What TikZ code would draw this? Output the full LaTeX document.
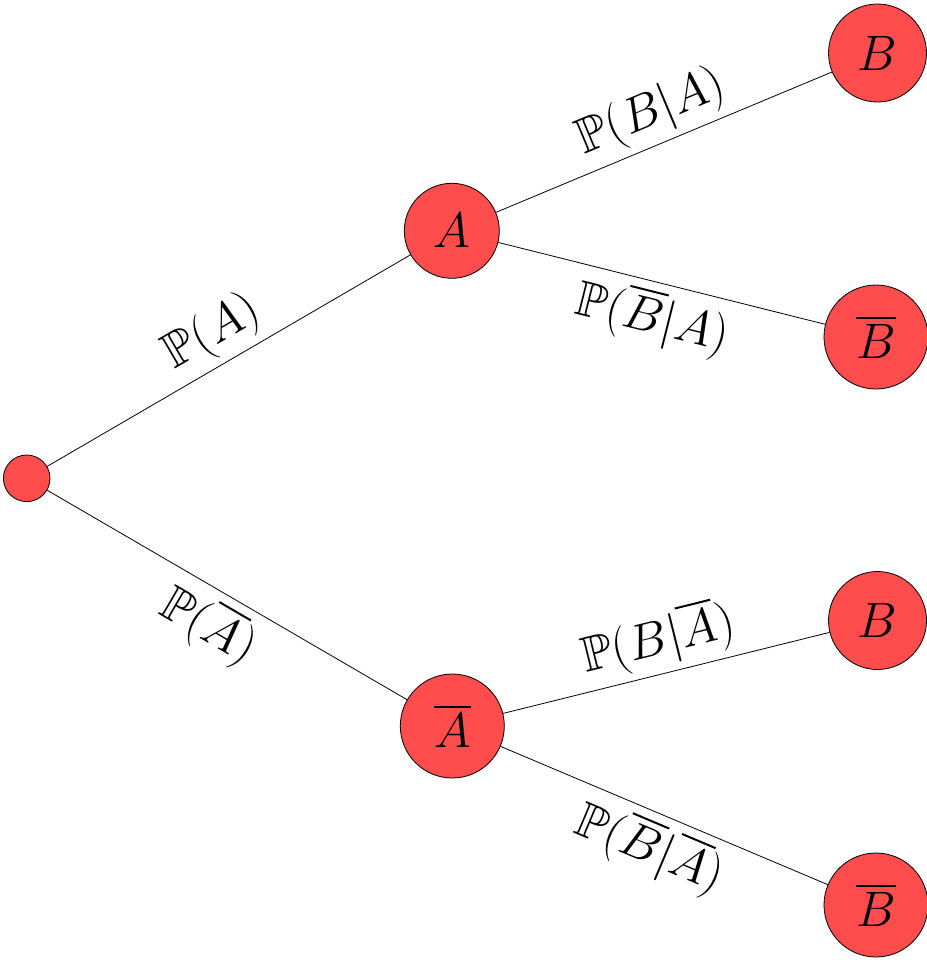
\documentclass[tikz,border=0pt]{standalone}
\usepackage{amssymb}
\begin{document}
\begin{tikzpicture}[x=0.5pt,y=-0.5pt,
  ev/.style={circle,draw,fill=red!70,font=\Huge,inner sep=0pt},
  br/.style={draw,line width=0.4pt},
  lab/.style={font=\Huge,sloped,midway}]
\useasboundingbox (0,0) rectangle (927,965);
\node[ev,minimum size=23.3pt] (r) at (26.7,478.3) {};
\node[ev,minimum size=47.5pt] (a) at (451.8,230.8) {$A$};
\node[ev,minimum size=52pt] (na) at (452.3,726) {$\overline{A}$};
\node[ev,minimum size=49pt] (b1) at (877.5,53) {$B$};
\node[ev,minimum size=52pt] (nb1) at (876,337) {$\overline{B}$};
\node[ev,minimum size=49pt] (b2) at (877.5,620.5) {$B$};
\node[ev,minimum size=52pt] (nb2) at (876,905) {$\overline{B}$};
\draw[br] (r) -- node[lab,above] {$\mathbb{P}(A)$} (a);
\draw[br] (r) -- node[lab,below] {$\mathbb{P}(\overline{A})$} (na);
\draw[br] (a) -- node[lab,above] {$\mathbb{P}(B|A)$} (b1);
\draw[br] (a) -- node[lab,below] {$\mathbb{P}(\overline{B}|A)$} (nb1);
\draw[br] (na) -- node[lab,above] {$\mathbb{P}(B|\overline{A})$} (b2);
\draw[br] (na) -- node[lab,below] {$\mathbb{P}(\overline{B}|\overline{A})$} (nb2);
\end{tikzpicture}
\end{document}
